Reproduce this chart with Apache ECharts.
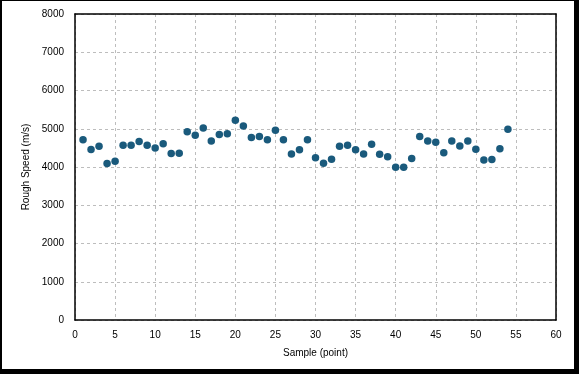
<!DOCTYPE html>
<html><head><meta charset="utf-8">
<script src="https://cdn.jsdelivr.net/npm/echarts@6/dist/echarts.min.js"></script>
<style>
html,body{margin:0;padding:0;background:#fff;}
#wrap{position:relative;width:579px;height:374px;}
#chart{position:absolute;left:0;top:0;width:579px;height:374px;}
#frame{position:absolute;left:0;top:0;width:579px;height:374px;box-sizing:border-box;border-style:solid;border-color:#000;border-width:1px 5px 5px 2px;pointer-events:none;}
</style></head>
<body><div id="wrap"><div id="chart"></div><div id="frame"></div></div>
<script>
const samples = [];
for (let i = 1; i <= 54; i++) samples.push(i);
const roughSpeed = [
  4710, 4455, 4540, 4090, 4150, 4570, 4570, 4665, 4570, 4500,
  4610, 4350, 4360, 4920, 4830, 5020, 4680, 4850, 4870, 5220,
  5075, 4770, 4795, 4710, 4960, 4710, 4340, 4450, 4710, 4245,
  4100, 4200, 4540, 4570, 4450, 4340, 4595, 4335, 4265, 3995,
  3995, 4220, 4795, 4680, 4645, 4370, 4680, 4550, 4680, 4465,
  4180, 4195, 4475, 4985
];
const data = samples.map((s, i) => [s, roughSpeed[i]]);
const font = 'Liberation Sans, Arial, sans-serif';
const chart = echarts.init(document.getElementById('chart'), null, {renderer: 'canvas'});
const frameAxis = {
  z: 5,
  axisLine: {show: true, onZero: false, lineStyle: {color: '#000', width: 1.5}},
  axisTick: {show: false}, axisLabel: {show: false}, splitLine: {show: false}
};
chart.setOption({
  animation: false,
  backgroundColor: '#fff',
  grid: {left: 75, top: 14, right: 23, bottom: 54, containLabel: false},
  xAxis: [{
    type: 'value', min: 0, max: 60, interval: 5, z: 1,
    name: 'Sample (point)', nameLocation: 'middle', nameGap: 28,
    nameTextStyle: {fontFamily: font, fontSize: 10, color: '#000'},
    axisLine: {show: true, onZero: false, lineStyle: {color: '#000', width: 1.5}},
    axisTick: {show: false},
    axisLabel: {fontFamily: font, fontSize: 10, color: '#000', margin: 10},
    splitLine: {show: true, lineStyle: {color: '#bdbdbd', type: [3, 3], width: 1}}
  }, Object.assign({type: 'value', position: 'top', min: 0, max: 60, interval: 5}, frameAxis)],
  yAxis: [{
    type: 'value', min: 0, max: 8000, interval: 1000, z: 1,
    name: 'Rough Speed (m/s)', nameLocation: 'middle', nameGap: 43,
    nameTextStyle: {fontFamily: font, fontSize: 10, color: '#000'},
    axisLine: {show: true, onZero: false, lineStyle: {color: '#000', width: 1.5}},
    axisTick: {show: false},
    axisLabel: {fontFamily: font, fontSize: 10, color: '#000', margin: 11, formatter: v => String(v)},
    splitLine: {show: true, lineStyle: {color: '#bdbdbd', type: [3, 3], width: 1}}
  }, Object.assign({type: 'value', position: 'right', min: 0, max: 8000, interval: 1000}, frameAxis)],
  series: [{
    type: 'scatter', data: data, symbol: 'circle', symbolSize: 7.5, z: 10,
    itemStyle: {color: '#1a5a7c', opacity: 1}
  }]
});
</script></body></html>
